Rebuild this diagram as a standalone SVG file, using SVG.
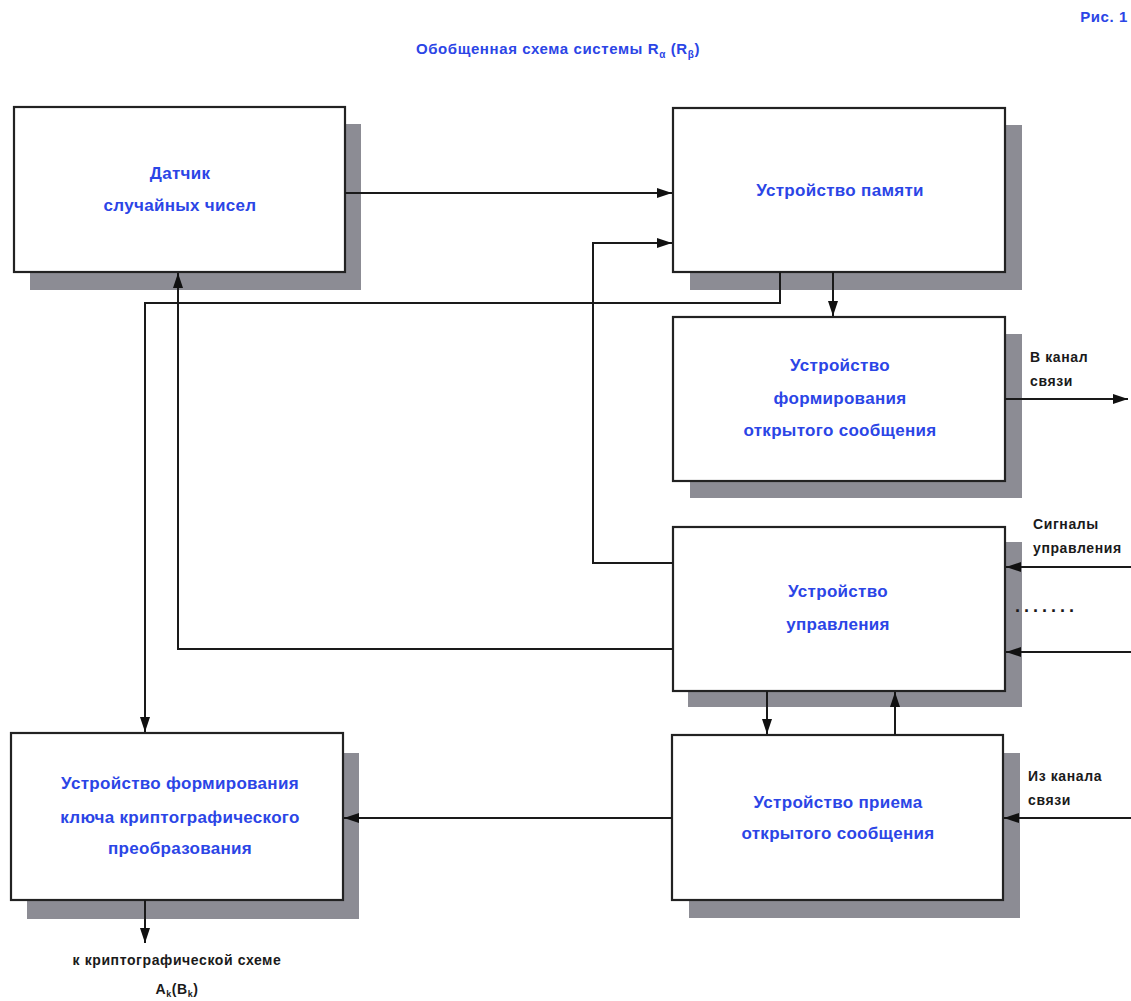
<svg xmlns="http://www.w3.org/2000/svg" width="1131" height="1001" viewBox="0 0 1131 1001">
<style>
.sh{fill:#8c8c94}
.bx{fill:#fff;stroke:#222;stroke-width:2.2}
.lb{font-family:"Liberation Sans",Arial,sans-serif;font-weight:bold;font-size:17px;fill:#2b45e6;text-anchor:middle;letter-spacing:0.3px}
.sd{font-family:"Liberation Sans",Arial,sans-serif;font-weight:bold;font-size:14px;fill:#1a1a1a;letter-spacing:0.6px}
.dt{font-family:"Liberation Sans",Arial,sans-serif;font-weight:bold;font-size:18px;fill:#1a1a1a;letter-spacing:4px}
.ti{font-family:"Liberation Sans",Arial,sans-serif;font-weight:bold;font-size:15px;fill:#2b45e6;letter-spacing:0.6px}
.cn{fill:none;stroke:#1a1a1a;stroke-width:2}
</style>
<defs>
<marker id="ah" markerUnits="userSpaceOnUse" markerWidth="16" markerHeight="12" refX="15" refY="5" orient="auto">
<path d="M0,0 L15,5 L0,10 z" fill="#111"/>
</marker>
</defs>
<rect width="1131" height="1001" fill="#fff"/>
<text class="ti" x="1128" y="22" text-anchor="end">Рис. 1</text>
<text class="ti" x="558" y="54" text-anchor="middle">Обобщенная схема системы R<tspan font-size="10" dy="4">α</tspan><tspan dy="-4"> (R</tspan><tspan font-size="10" dy="4">β</tspan><tspan dy="-4">)</tspan></text>

<g id="n1">
<rect class="sh" x="30" y="124" width="331" height="166"/>
<rect class="bx" x="14" y="107" width="331" height="165"/>
<text class="lb" x="180" y="179">Датчик</text>
<text class="lb" x="180" y="211">случайных чисел</text>
</g>
<g id="n2">
<rect class="sh" x="690" y="125" width="332" height="165"/>
<rect class="bx" x="673" y="108" width="332" height="164"/>
<text class="lb" x="840" y="196">Устройство памяти</text>
</g>
<g id="n3">
<rect class="sh" x="690" y="334" width="332" height="164"/>
<rect class="bx" x="673" y="317" width="332" height="164"/>
<text class="lb" x="840" y="371">Устройство</text>
<text class="lb" x="840" y="404">формирования</text>
<text class="lb" x="840" y="436">открытого сообщения</text>
</g>
<g id="n4">
<rect class="sh" x="688" y="542" width="334" height="165"/>
<rect class="bx" x="673" y="527" width="332" height="164"/>
<text class="lb" x="838" y="597">Устройство</text>
<text class="lb" x="838" y="630">управления</text>
</g>
<g id="n5">
<rect class="sh" x="689" y="753" width="331" height="165"/>
<rect class="bx" x="672" y="735" width="331" height="165"/>
<text class="lb" x="838" y="808">Устройство приема</text>
<text class="lb" x="838" y="839">открытого сообщения</text>
</g>
<g id="n6">
<rect class="sh" x="27" y="753" width="332" height="166"/>
<rect class="bx" x="11" y="733" width="332" height="167"/>
<text class="lb" x="180" y="789">Устройство формирования</text>
<text class="lb" x="180" y="823">ключа криптографического</text>
<text class="lb" x="180" y="854">преобразования</text>
</g>

<g id="connectors">
<path class="cn" d="M345,193 H672" marker-end="url(#ah)"/>
<path class="cn" d="M780,272 V303 H145 V732" marker-end="url(#ah)"/>
<path class="cn" d="M833,272 V316" marker-end="url(#ah)"/>
<path class="cn" d="M673,563 H593 V243 H672" marker-end="url(#ah)"/>
<path class="cn" d="M673,649 H178 V273" marker-end="url(#ah)"/>
<path class="cn" d="M767,691 V734" marker-end="url(#ah)"/>
<path class="cn" d="M895,735 V692" marker-end="url(#ah)"/>
<path class="cn" d="M672,818 H344" marker-end="url(#ah)"/>
<path class="cn" d="M145,900 V943" marker-end="url(#ah)"/>
<path class="cn" d="M1005,399 H1128" marker-end="url(#ah)"/>
<path class="cn" d="M1131,567 H1006" marker-end="url(#ah)"/>
<path class="cn" d="M1131,652 H1006" marker-end="url(#ah)"/>
<path class="cn" d="M1131,818 H1004" marker-end="url(#ah)"/>
</g>

<text class="sd" x="1030" y="362">В канал</text>
<text class="sd" x="1030" y="386">связи</text>
<text class="sd" x="1033" y="529">Сигналы</text>
<text class="sd" x="1033" y="553">управления</text>
<text class="dt" x="1015" y="612">.......</text>
<text class="sd" x="1028" y="781">Из канала</text>
<text class="sd" x="1028" y="805">связи</text>
<text class="sd" x="177" y="965" text-anchor="middle">к криптографической схеме</text>
<text class="sd" x="177" y="994" text-anchor="middle">A<tspan font-size="9" dy="3">k</tspan><tspan dy="-3">(B</tspan><tspan font-size="9" dy="3">k</tspan><tspan dy="-3">)</tspan></text>
</svg>
